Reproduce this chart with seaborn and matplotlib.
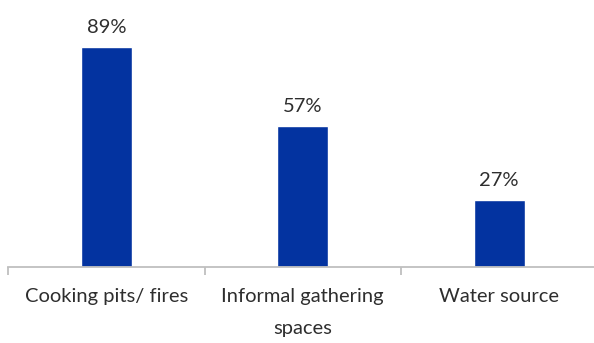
import matplotlib
matplotlib.use("Agg")
import matplotlib.pyplot as plt
import seaborn as sns
import pandas as pd

categories = ["Cooking pits/ fires", "Informal gathering\nspaces", "Water source"]
shares = [89, 57, 27]
value_labels = ["89%", "57%", "27%"]

df = pd.DataFrame({"category": categories, "share": shares})

sns.set_style("white")
plt.rcParams["font.family"] = ["Lato", "DejaVu Sans"]

W, H = 594, 343
fig = plt.figure(figsize=(W / 100, H / 100), dpi=100)
# axes box in pixel terms: baseline at y=267, category width ~196.5 px starting at x=8
left_px, base_px, cat_w = 8, 267, 196.5
px_per_unit = 2.47
ymax = 105
ax = fig.add_axes([left_px / W, (H - base_px) / H, 3 * cat_w / W, ymax * px_per_unit / H])

color = "#0333A0"
text_color = "#2e2e2e"
sns.barplot(data=df, x="category", y="share", color=color, width=0.26,
            saturation=1, ax=ax)
ax.set_xlim(-0.5, 2.5)
ax.set_ylim(0, ymax)

for i, (v, lab) in enumerate(zip(shares, value_labels)):
    ax.annotate(lab, (i, v), xytext=(0, 8), textcoords="offset points",
                ha="center", va="bottom", fontsize=14.5, color=text_color)

for s in ["top", "right", "left"]:
    ax.spines[s].set_visible(False)
ax.spines["bottom"].set_color("#BFBFBF")
ax.spines["bottom"].set_linewidth(1.3)
ax.set_yticks([])
ax.set_xlabel("")
ax.set_ylabel("")
ax.set_xticks([-0.5, 0.5, 1.5, 2.5], minor=False)
ax.set_xticklabels([])
ax.tick_params(axis="x", which="major", length=6, width=1.3, color="#BFBFBF",
               direction="out", bottom=True)
ax.set_xticks([0, 1, 2], minor=True)
ax.set_xticklabels(categories, minor=True, fontsize=14.5, color=text_color,
                   linespacing=2.1)
ax.tick_params(axis="x", which="minor", length=0, pad=15)
for t in ax.get_xticklabels(minor=True):
    t.set_verticalalignment("top")

fig.savefig("out.png", dpi=100)
